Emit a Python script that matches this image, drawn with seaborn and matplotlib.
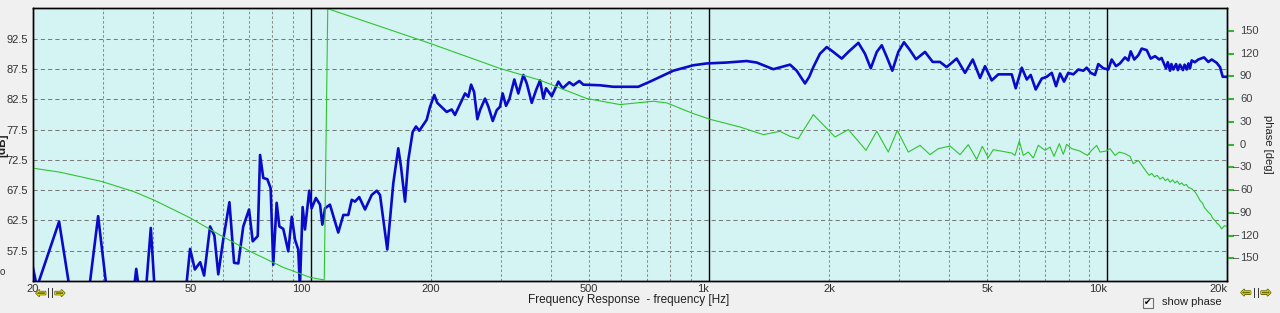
import matplotlib
matplotlib.use("Agg")
import matplotlib.pyplot as plt
import seaborn as sns
from matplotlib import patheffects as pe
from matplotlib.patches import Rectangle
from matplotlib.ticker import NullLocator, FixedLocator, FixedFormatter
from matplotlib.transforms import blended_transform_factory

# ---------------- data ----------------
mag_freq = [20.0, 20.5, 23.3, 24.8, 27.7, 29.2, 30.7, 35.9, 36.4, 37.0,
            38.5, 39.6, 40.5, 48.5, 49.7, 51.1, 52.7, 53.9, 55.8, 57.2,
            58.5, 60.2, 62.4, 64.1, 65.7, 67.6, 69.9, 71.4, 73.5, 74.5,
            75.9, 77.7, 79.2, 80.4, 82.0, 83.3, 85.2, 87.7, 89.5, 91.2,
            92.9, 93.8, 95.3, 96.6, 99.0, 100.4, 102.9, 105.4, 106.8, 108.5,
            111.6, 117.1, 120.6, 124.1, 126.6, 129.0, 132.2, 136.7, 142.1, 146.3,
            149.1, 155.5, 161.0, 165.7, 168.3, 172.3, 175.6, 180.1, 183.6, 187.1,
            195.3, 199.1, 204.1, 207.6, 219.2, 225.7, 230.0, 243.8, 248.5, 252.5,
            256.9, 261.8, 265.9, 273.7, 279.1, 286.2, 292.9, 298.4, 303.1, 309.0,
            315.0, 324.2, 331.8, 341.6, 348.4, 358.6, 367.7, 376.2, 383.5, 389.5,
            402.6, 418.3, 429.0, 445.7, 456.1, 472.2, 483.2, 532.2, 574.6, 664.0,
            710.6, 813.0, 912.8, 986.4, 1107, 1243, 1317, 1450, 1597, 1660,
            1742, 1785, 1828, 1899, 1975, 2052, 2154, 2238, 2372, 2464,
            2548, 2638, 2715, 2794, 2886, 2988, 3088, 3196, 3310, 3487,
            3646, 3802, 3952, 4188, 4395, 4596, 4794, 4934, 5129, 5328,
            5759, 5892, 6102, 6282, 6426, 6616, 6850, 7050, 7258, 7440,
            7614, 7792, 7988, 8222, 8464, 8712, 8884, 9092, 9320, 9500,
            9780, 10066, 10266, 10524, 10770, 11086, 11300, 11458, 11698, 11974,
            12210, 12570, 12864, 13188, 13520, 13700, 13836, 14052, 14200, 14384,
            14500, 14660, 14900, 15050, 15238, 15500, 15650, 15840, 16000, 16150,
            16306, 16600, 16942, 17510, 17950, 18304, 18844, 19208, 19512, 20000]
mag_db = [54.9, 51.5, 62.3, 51.0, 51.0, 63.2, 51.0, 51.0, 54.5, 51.0,
          51.0, 61.25, 51.0, 51.0, 57.8, 54.4, 55.6, 53.4, 61.5, 60.0,
          53.6, 59.3, 65.5, 55.5, 55.4, 61.5, 64.3, 59.05, 59.9, 73.3,
          69.5, 69.3, 67.8, 55.2, 65.4, 61.5, 61.1, 57.4, 63.1, 59.3,
          57.7, 51.5, 64.7, 61.0, 67.4, 64.5, 66.2, 65.1, 61.8, 64.5,
          65.1, 60.5, 63.4, 63.4, 65.9, 65.6, 66.35, 64.3, 66.7, 67.4,
          66.7, 57.7, 68.65, 74.4, 71.4, 65.6, 72.5, 77.1, 78.0, 77.3,
          79.1, 81.25, 83.2, 81.9, 80.4, 80.8, 79.9, 83.45, 82.9, 84.9,
          83.7, 79.2, 80.7, 82.6, 81.25, 78.9, 80.7, 81.25, 83.45, 81.4,
          82.5, 85.75, 83.45, 86.5, 85.1, 81.9, 84.0, 85.6, 82.6, 84.3,
          83.0, 85.4, 84.3, 85.3, 84.8, 85.5, 84.9, 84.8, 84.55, 84.55,
          85.4, 87.2, 88.1, 88.4, 88.55, 88.8, 88.55, 87.45, 88.2, 87.2,
          85.1, 86.2, 87.8, 90.0, 91.1, 90.3, 89.2, 90.3, 91.8, 90.0,
          87.6, 90.3, 91.4, 89.5, 87.2, 90.3, 91.9, 90.6, 89.1, 90.3,
          88.65, 88.65, 87.8, 89.2, 86.85, 89.05, 86.0, 87.95, 85.6, 86.6,
          86.6, 84.3, 87.7, 85.75, 86.5, 84.1, 85.9, 86.2, 86.85, 84.65,
          86.75, 85.4, 86.85, 86.6, 87.4, 87.2, 87.7, 86.85, 86.5, 88.3,
          87.6, 87.4, 89.05, 87.95, 88.4, 89.4, 88.9, 90.4, 89.05, 89.75,
          90.85, 90.6, 89.2, 89.6, 89.05, 89.3, 88.65, 87.6, 88.6, 87.2,
          88.3, 87.4, 88.3, 87.3, 88.2, 87.3, 88.2, 87.4, 88.4, 87.6,
          88.9, 88.6, 89.05, 89.4, 88.65, 89.05, 88.5, 87.8, 86.2, 86.2]

ph_freq = [20.0, 23.4, 29.8, 35.8, 40.2, 49.7, 58.0, 70.3, 85.2, 99.5,
           108.0, 110.2, 199.1, 298.4, 376.2, 492.8, 597.5, 724.4, 782.9, 912.8,
           1005, 1196, 1369, 1507, 1597, 1675, 1828, 2072, 2238, 2479,
           2638, 2820, 2970, 3166, 3388, 3589, 3766, 4031, 4270, 4478,
           4702, 4857, 5026, 5176, 5759, 5868, 6016, 6156, 6338, 6524,
           6714, 6980, 7186, 7354, 7582, 7760, 7914, 8146, 8546, 8914,
           9142, 9412, 9594, 9934, 10166, 10464, 10728, 11086, 11412, 11632,
           11974, 12570, 12750, 12938, 13150, 13350, 13574, 13800, 14000, 14200,
           14384, 14600, 14800, 15000, 15200, 15390, 15600, 15800, 16000, 16306,
           16600, 16800, 17110, 17350, 17550, 17950, 18200, 18400, 18658, 18900,
           19100, 19396, 19700, 20000]
ph_deg = [-31.0, -36.3, -48.6, -61.8, -72.8, -96.6, -117.0, -140.8, -162.0, -175.2,
          -178.7, 179.5, 133.7, 100.6, 85.1, 60.9, 52.9, 57.3, 55.1, 41.0,
          33.5, 23.3, 13.2, 17.6, 11.0, 7.9, 39.7, 10.1, 19.9, -7.5,
          17.6, -9.8, 18.9, -9.8, -0.9, -13.2, -5.3, -1.85, -13.2, 0.0,
          -19.5, -2.25, -17.2, -6.6, -11.1, -14.2, 4.8, -14.2, -9.8, -17.7,
          -0.9, -7.5, -3.2, -15.5, 1.3, -12.8, 0.4, -5.3, -8.5, -14.2,
          -7.5, -0.9, -9.8, -8.5, -5.3, -14.2, -9.8, -11.9, -15.5, -25.1,
          -20.8, -36.3, -40.5, -38.0, -42.5, -40.5, -45.5, -43.0, -47.5, -45.0,
          -49.5, -46.5, -50.5, -48.0, -52.5, -50.5, -54.0, -52.5, -56.5, -58.2,
          -62.0, -66.0, -73.7, -77.0, -83.0, -89.2, -92.0, -97.0, -100.2, -104.0,
          -106.0, -111.2, -107.0, -108.1]

x_ticks = [20, 50, 100, 200, 500, 1000, 2000, 5000, 10000, 20000]
x_labels = ["20", "50", "100", "200", "500", "1k", "2k", "5k", "10k", "20k"]
x_grid_dashed = [30, 40, 50, 60, 70, 80, 90, 200, 300, 400, 500, 600, 700, 800, 900,
                 2000, 3000, 4000, 5000, 6000, 7000, 8000, 9000]
x_grid_solid = [100, 1000, 10000]
db_ticks = [57.5, 62.5, 67.5, 72.5, 77.5, 82.5, 87.5, 92.5]
phase_ticks = [150, 120, 90, 60, 30, 0, -30, -60, -90, -120, -150]

# ---------------- figure ----------------
sns.set_theme(style="white")
plt.rcParams['font.family'] = ['Liberation Sans', 'DejaVu Sans']

W, H = 1280, 313
fig = plt.figure(figsize=(12.8, 3.13), dpi=100, facecolor='#f0f0f0')


def fx(px):
    return px / W


def fy(py):
    return 1 - py / H


L, R, T, B = 32.7, 1227.0, 8.3, 281.0
ax = fig.add_axes([fx(L), fy(B), (R - L) / W, (B - T) / H])
ax.set_facecolor('#d4f4f4')
ax.set_xscale('log')

for f in x_grid_dashed:
    ax.axvline(f, color='#8c8c8c', lw=0.75, ls=(0, (2.5, 2)), zorder=1)
for v in db_ticks:
    ax.axhline(v, color='#7a7a7a', lw=0.75, ls=(0, (4, 3)), zorder=1)
for f in x_grid_solid:
    ax.axvline(f, color='black', lw=1.0, zorder=1.5)

sns.lineplot(x=mag_freq, y=mag_db, ax=ax, color='#0a0ac8', lw=1.9,
             estimator=None, sort=False, zorder=3)
ax.set_ylim(52.5, 97.5)
ax.set_yticks(db_ticks, [f"{v:.1f}" for v in db_ticks])
ax.set_xlabel("")
ax.set_ylabel("")

ax2 = ax.twinx()
sns.lineplot(x=ph_freq, y=ph_deg, ax=ax2, color='#2fc42f', lw=0.8,
             estimator=None, sort=False, zorder=2)
ax2.set_ylim(-180, 180)
ax2.set_yticks(phase_ticks)
ax2.tick_params(axis='y', length=5, width=1.5, color='#2fb82f', labelright=False, right=True)
ax2.set_ylabel("")
ax2.set_xlabel("")

# x axis (shared) set after both plots
ax.set_xlim(20, 20000)
ax.xaxis.set_major_locator(FixedLocator(x_ticks))
ax.xaxis.set_major_formatter(FixedFormatter(x_labels))
ax.xaxis.set_minor_locator(NullLocator())
ax.tick_params(axis='both', length=0, labelsize=8, labelcolor='#303030')
ax.tick_params(axis='x', pad=2)
ax.tick_params(axis='y', pad=3.5)
ax2.tick_params(axis='x', length=0)

for a in (ax, ax2):
    for s in a.spines.values():
        s.set_color('black')
        s.set_linewidth(1.0)

fig.canvas.draw()
for tick, lab in zip(ax.xaxis.get_major_ticks(), x_labels):
    if lab in ("100", "1k", "10k", "20k"):
        tick.label1.set_horizontalalignment('right')

tr = blended_transform_factory(fig.transFigure, ax2.transData)
for v in phase_ticks:
    ax2.text(fx(1240), v, str(abs(v)), transform=tr, ha='left', va='center',
             fontsize=8, color='#404040', clip_on=False)
    if v < 0:
        ax2.text(fx(1239.5), v, "\u2013", transform=tr, ha='right', va='center',
                 fontsize=8, color='#404040', clip_on=False)

fig.text(fx(1268), fy(144), "phase [deg]", rotation=270, ha='center', va='center',
         fontsize=8, color='#202020')
fig.text(fx(2.5), fy(145), "[dB]", rotation=90, ha='center', va='center',
         fontsize=8.5, fontweight='bold', color='#202020')
fig.text(fx(2.5), fy(272), "o", ha='center', va='center', fontsize=7, color='#303030')

fig.text(fx(629), fy(300), "Frequency Response  - frequency [Hz]", ha='center', va='center',
         fontsize=8.5, color='#202020')

# checkbox + label
fig.patches.append(Rectangle((fx(1143), fy(307.5)), 10 / W, 10 / H, transform=fig.transFigure,
                             facecolor='#f4f4f4', edgecolor='#707070', lw=0.8))
fig.text(fx(1148), fy(302.3), "\u2714", ha='center', va='center', fontsize=6.5,
         color='black', family=['DejaVu Sans'])
fig.text(fx(1162), fy(302), "show phase", ha='left', va='center', fontsize=8, color='#202020')

# navigation arrows
stroke = [pe.withStroke(linewidth=1.2, foreground='#6b6b00')]
for xl, xr, y in [(41, 60, 293.5), (1246, 1266, 293)]:
    fig.text(fx(xl), fy(y), "\u21e6", ha='center', va='center', fontsize=9, color='#ffff30',
             family=['DejaVu Sans'], path_effects=stroke)
    fig.text(fx(xr), fy(y), "\u21e8", ha='center', va='center', fontsize=9, color='#ffff30',
             family=['DejaVu Sans'], path_effects=stroke)
    fig.text(fx((xl + xr) / 2 - 2), fy(y), "|", ha='center', va='center', fontsize=8, color='#202020')
    fig.text(fx((xl + xr) / 2 + 2), fy(y), "|", ha='center', va='center', fontsize=8, color='#202020')

fig.savefig("out.png", dpi=100, facecolor=fig.get_facecolor())
